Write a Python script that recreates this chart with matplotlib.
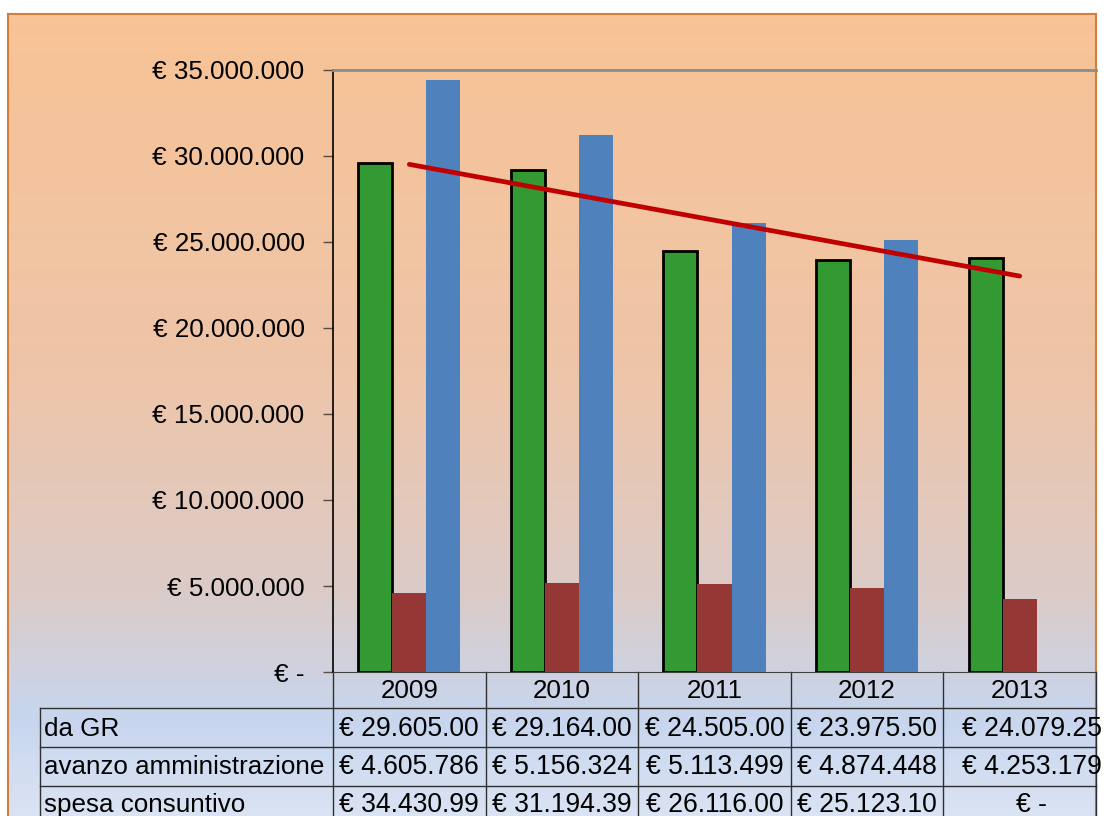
import numpy as np
import matplotlib.pyplot as plt
import matplotlib.transforms as mtransforms
from matplotlib.colors import LinearSegmentedColormap
from matplotlib.ticker import FuncFormatter

years = ['2009', '2010', '2011', '2012', '2013']
da_gr = [29605000, 29164000, 24505000, 23975500, 24079250]
avanzo = [4605786, 5156324, 5113499, 4874448, 4253179]
spesa = [34430990, 31194390, 26116000, 25123100, 0]
row_labels = ['da GR', 'avanzo amministrazione', 'spesa consuntivo']

W, H = 1106, 816
plt.rcParams['font.family'] = ['Liberation Sans', 'DejaVu Sans']
FS = 18.7
FS_TAB = 19.1


def euro(v):
    if v == 0:
        return '€ -'
    return '€ ' + '{:,}'.format(int(v)).replace(',', '.')


def cell(v):
    # the cells in the original are too narrow, the last digit is cut off
    return euro(v)[:11]


def fy(py):
    return 1 - py / H


fig = plt.figure(figsize=(W / 100, H / 100), dpi=100)
fig.patch.set_facecolor('white')

# gradient background inside the orange frame
bg = fig.add_axes([8 / W, 0, (1096 - 8) / W, fy(14)])
cmap = LinearSegmentedColormap.from_list('sunset', [
    (0.0, '#F8C396'), (0.45, '#EEC5A9'), (0.72, '#DCCBC8'),
    (0.88, '#C7D6EE'), (1.0, '#DAE3F3')])
grad = np.linspace(0, 1, 256).reshape(-1, 1)
bg.imshow(grad, aspect='auto', cmap=cmap, extent=[0, 1, 0, 1], origin='upper')
bg.set_xlim(0, 1)
bg.set_ylim(0, 1)
bg.set_xticks([])
bg.set_yticks([])
for s, sp in bg.spines.items():
    sp.set_color('#D07F3E')
    sp.set_linewidth(1.5)
    sp.set_visible(s != 'bottom')

ax = fig.add_axes([333 / W, fy(672), (1096 - 333) / W, (672 - 70) / H])
ax.set_facecolor('none')
x = np.arange(len(years))
bw = 0.223
ax.bar(x - bw, da_gr, bw, color='#339933', edgecolor='black', linewidth=2, zorder=3)
ax.bar(x, avanzo, bw, color='#953735', zorder=3)
ax.bar(x + bw, spesa, bw, color='#4F81BD', zorder=3)

k, b = np.polyfit(x, da_gr, 1)
ax.plot([x[0], x[-1]], [k * x[0] + b, k * x[-1] + b], color='#C00000',
        linewidth=3.4, solid_capstyle='round', zorder=4)

ax.set_xlim(-0.5, len(years) - 0.5)
ax.set_ylim(0, 35000000)
ax.set_yticks(np.arange(0, 35000001, 5000000))
ax.yaxis.set_major_formatter(FuncFormatter(lambda v, p: euro(v)))
ax.tick_params(axis='y', labelsize=FS, length=7.5, width=1, pad=13,
               color='#5a4a40', labelcolor='black')
ax.set_xticks([])
ax.spines['right'].set_visible(False)
ax.spines['top'].set_color('#8C8C8C')
ax.spines['top'].set_linewidth(2)
ax.spines['left'].set_linewidth(1.2)
ax.spines['bottom'].set_color('#404040')

# data table under the axis
tr = mtransforms.blended_transform_factory(ax.transData, fig.transFigure)
line_kw = dict(color='#303030', linewidth=1, transform=tr, clip_on=False)
row_top = [672, 708, 747, 786, 830]
x_left = ax.transData.inverted().transform((40, 0))[0]
x_right = len(years) - 0.5
for i in range(len(years) + 1):
    ax.plot([i - 0.5, i - 0.5], [fy(672), fy(830)], **line_kw)
ax.plot([x_left, x_left], [fy(708), fy(830)], **line_kw)
for py in row_top[1:4]:
    ax.plot([x_left, x_right], [fy(py), fy(py)], **line_kw)

for i, yr in enumerate(years):
    ax.text(i, fy(691), yr, ha='center', va='center', fontsize=FS, transform=tr)
x_lab = ax.transData.inverted().transform((44, 0))[0]
# last column's values sit a bit to the right in the original
shift = mtransforms.ScaledTranslation(12 / 100, 0, fig.dpi_scale_trans)
for r, (lab, vals) in enumerate(zip(row_labels, [da_gr, avanzo, spesa])):
    yc = fy((row_top[r + 1] + row_top[r + 2]) / 2 + 1)
    if r == 2:
        yc = fy(805)
    ax.text(x_lab, yc, lab, ha='left', va='center', fontsize=FS, transform=tr)
    for i, v in enumerate(vals):
        t = tr + shift if i == len(vals) - 1 else tr
        ax.text(i, yc, cell(v), ha='center', va='center', fontsize=FS_TAB, transform=t)

fig.savefig('out.png', dpi=100)
